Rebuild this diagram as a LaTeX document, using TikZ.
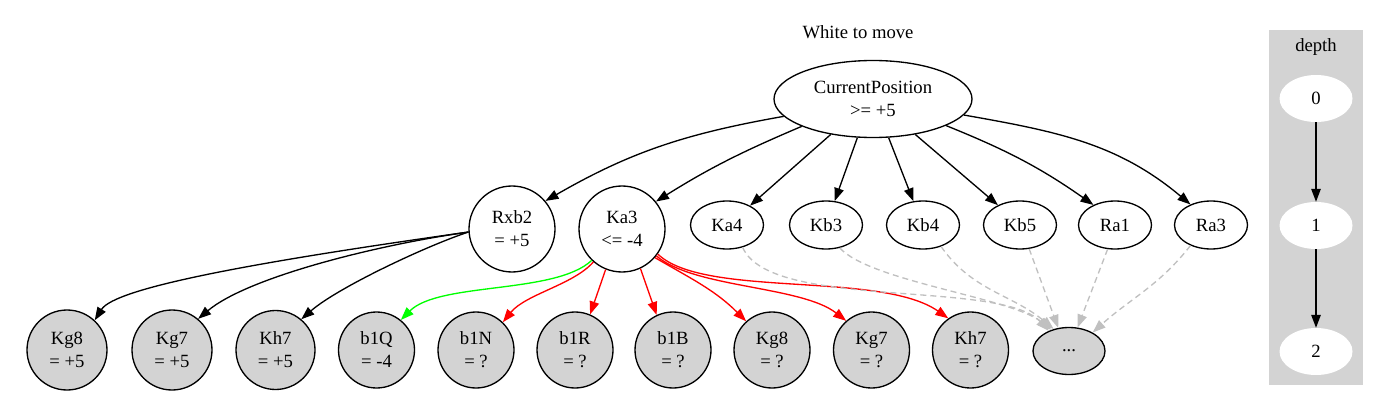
\documentclass[tikz,border=0pt]{standalone}
\usepackage{fontspec}
\setmainfont{Liberation Serif}
\usetikzlibrary{shapes,arrows.meta}
\definecolor{lgray}{HTML}{D3D3D3}
\definecolor{dgray}{HTML}{C0C0C0}
\begin{document}
\begin{tikzpicture}[x=1pt,y=1pt,
	every node/.style={font=\fontsize{18.67}{23}\selectfont, inner sep=0pt, align=center},
	cand/.style={ellipse, draw, line width=1.33pt, minimum width=73pt, minimum height=48pt},
	scored/.style={circle, draw, line width=1.33pt, minimum size=86pt},
	leaf/.style={circle, draw, line width=1.33pt, fill=lgray, minimum size=76pt},
	ply/.style={ellipse, fill=white, minimum width=73pt, minimum height=47pt},
	link/.style={line width=1.33pt, -{Triangle[length=13pt,width=9.5pt]}},
	later/.style={link, dgray, dash pattern=on 6pt off 4pt}]
	
	\useasboundingbox (0,0) rectangle (1380,-417);
	
	%% search tree
	\node (title) at (858,-32) {White to move};
	\node[ellipse, draw, line width=1.33pt, minimum width=198pt, minimum height=77pt] (cur) at (873,-99) {CurrentPosition\\>= +5};
	
	\node[scored] (rxb2) at (512,-229) {Rxb2\\= +5};
	\node[scored] (ka3) at (622,-229) {Ka3\\<= -4};
	\node[cand] (ka4) at (727,-225) {Ka4};
	\node[cand] (kb3) at (826,-225) {Kb3};
	\node[cand] (kb4) at (923,-225) {Kb4};
	\node[cand] (kb5) at (1020,-225) {Kb5};
	\node[cand] (ra1) at (1115,-225) {Ra1};
	\node[cand] (ra3) at (1211,-225) {Ra3};
	
	\node[leaf, minimum size=80pt] (rkg8) at (67,-350) {Kg8\\= +5};
	\node[leaf, minimum size=80pt] (rkg7) at (172,-350) {Kg7\\= +5};
	\node[leaf, minimum size=79pt] (rkh7) at (275.5,-350) {Kh7\\= +5};
	\node[leaf] (qb1) at (376.5,-350) {b1Q\\= -4};
	\node[leaf] (nb1) at (476,-350) {b1N\\= ?};
	\node[leaf] (rb1) at (575,-350) {b1R\\= ?};
	\node[leaf] (bb1) at (673,-350) {b1B\\= ?};
	\node[leaf] (kkg8) at (772,-350) {Kg8\\= ?};
	\node[leaf] (kkg7) at (871.5,-350) {Kg7\\= ?};
	\node[leaf] (kkh7) at (970.5,-350) {Kh7\\= ?};
	\node[ellipse, draw, line width=1.33pt, fill=lgray, minimum width=72pt, minimum height=47pt] (dots) at (1069,-351) {...};
	
	\draw[link] (cur.191) to[out=190,in=30] (rxb2.40);
	\draw[link] (cur.201) to[out=203,in=32] (ka3.39);
	\draw[link] (cur.220) -- (ka4.40);
	\draw[link] (cur.248) -- (kb3.70);
	\draw[link] (cur.292) -- (kb4.112);
	\draw[link] (cur.320) -- (kb5.138);
	\draw[link] (cur.340) to[out=338,in=145] (ra1.137);
	\draw[link] (cur.350) to[out=350,in=140] (ra3.135);
	
	\draw[link] (rxb2.184) .. controls +(188:220) and +(58:38) .. (rkg8.47);
	\draw[link] (rxb2.184) .. controls +(188:92) and +(40:65) .. (rkg7.50);
	\draw[link] (rxb2.184) .. controls +(198:42) and +(41:49) .. (rkh7.50);
	
	\draw[link, green] (ka3.226) .. controls +(223:50) and +(45:54) .. (qb1.51);
	\draw[link, red] (ka3.229) .. controls +(229:30) and +(51:36) .. (nb1.46);
	\draw[link, red] (ka3.248) -- (rb1.67);
	\draw[link, red] (ka3.295) -- (bb1.115);
	\draw[link, red] (ka3.319) to[out=330,in=135] (kkg8.132);
	\draw[link, red] (ka3.322) .. controls +(319:49) and +(142:57) .. (kkg7.131);
	\draw[link, red] (ka3.325) .. controls +(316:64) and +(145:83) .. (kkh7.125);
	
	\draw[later] (ka4.305) .. controls +(293:69) and +(133:71) .. (dots.135);
	\draw[later] (kb3.301) .. controls +(312:45) and +(141:51) .. (dots.130);
	\draw[later] (kb4.310) to[out=305,in=140] (dots.125);
	\draw[later] (kb5.291) -- (dots.115);
	\draw[later] (ra1.253) -- (dots.70);
	\draw[later] (ra3.225) to[out=232,in=42] (dots.38);
	
	%% depth legend
	\fill[lgray] (1269,-30) rectangle (1363,-385);
	\node (depth) at (1316,-47) {depth};
	\node[ply] (d0) at (1316,-98.5) {0};
	\node[ply] (d1) at (1316,-225.5) {1};
	\node[ply] (d2) at (1316,-351.5) {2};
	\draw[link] (d0) -- (d1);
	\draw[link] (d1) -- (d2);

\end{tikzpicture}
\end{document}
